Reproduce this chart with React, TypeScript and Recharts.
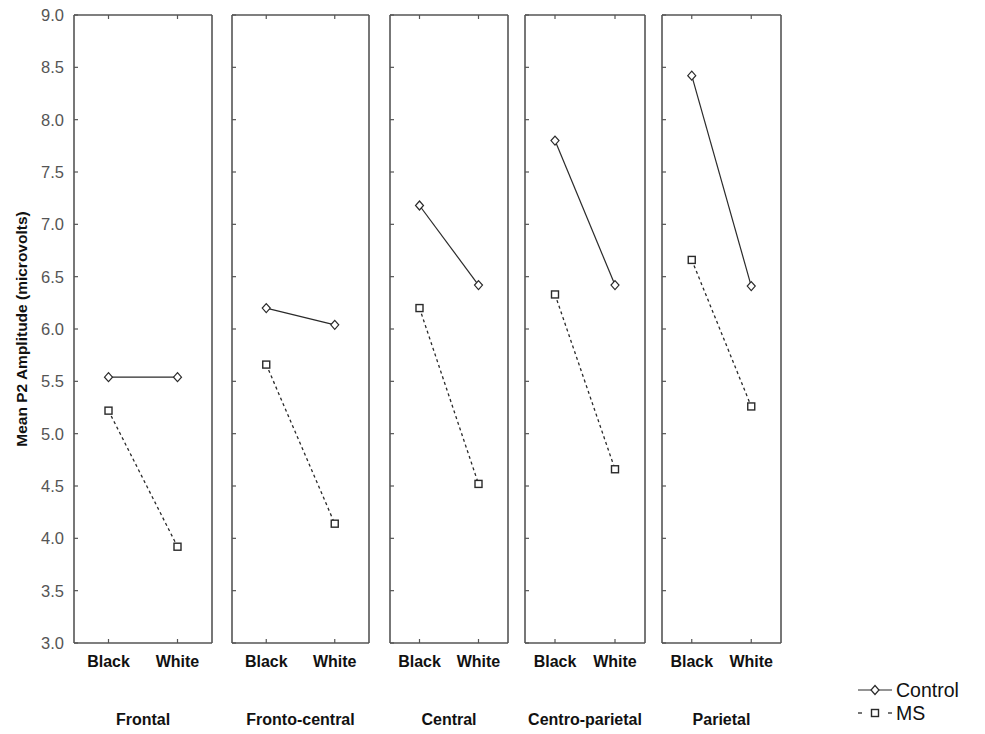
import React from "react";
import { LineChart, Line, XAxis, YAxis } from "recharts";

// Mean P2 amplitude (microvolts) per scalp region
const REGIONS = ["Frontal", "Fronto-central", "Central", "Centro-parietal", "Parietal"];
const CONDITIONS = ["Black", "White"];
const CONTROL_BLACK = [5.54, 6.2, 7.18, 7.8, 8.42];
const CONTROL_WHITE = [5.54, 6.04, 6.42, 6.42, 6.41];
const MS_BLACK = [5.22, 5.66, 6.2, 6.33, 6.66];
const MS_WHITE = [3.92, 4.14, 4.52, 4.66, 5.26];
const Y_TICKS = [3.0, 3.5, 4.0, 4.5, 5.0, 5.5, 6.0, 6.5, 7.0, 7.5, 8.0, 8.5, 9.0];
const SERIES = ["Control", "MS"];

// where each panel's plot box sits on the page
const PANEL_LEFT = [74, 232, 390, 525, 662];
const PANEL_WIDTH = [138, 137, 118, 120, 119];
const PLOT_TOP = 15;
const PLOT_BOTTOM = 643;
const CHART_H = 734;
const X_AXIS_H = 30;

const FRAME = "#555";
const INK = "#2a2a2a";
const FONT = "'Liberation Sans', Arial, Helvetica, sans-serif";

const Diamond = (props: any) => {
  const { cx, cy, index } = props;
  if (cx == null || cy == null) return null;
  return (
    <path
      key={`d-${index}`}
      d={`M${cx},${cy - 4.5}L${cx + 4},${cy}L${cx},${cy + 4.5}L${cx - 4},${cy}Z`}
      fill="#fff"
      stroke={INK}
      strokeWidth={1.2}
    />
  );
};

const Square = (props: any) => {
  const { cx, cy, index } = props;
  if (cx == null || cy == null) return null;
  return (
    <rect
      key={`s-${index}`}
      x={cx - 3.5}
      y={cy - 3.5}
      width={7}
      height={7}
      fill="#fff"
      stroke={INK}
      strokeWidth={1.4}
    />
  );
};

function Panel({ idx }: { idx: number }) {
  const first = idx === 0;
  const left = PANEL_LEFT[idx];
  const yAxisW = first ? left : 1;
  const chartLeft = first ? 0 : left - 1;
  const chartW = yAxisW + PANEL_WIDTH[idx] + 1;

  const data = CONDITIONS.map((c, i) => ({
    x: i + 1,
    control: i === 0 ? CONTROL_BLACK[idx] : CONTROL_WHITE[idx],
    ms: i === 0 ? MS_BLACK[idx] : MS_WHITE[idx],
  }));

  const axisLine = { stroke: FRAME, strokeWidth: 1.6 };
  const tickLine = { stroke: FRAME, strokeWidth: 1.2 };

  return (
    <div style={{ position: "absolute", left: chartLeft, top: 0 }}>
      <LineChart
        width={chartW}
        height={CHART_H}
        data={data}
        margin={{ top: PLOT_TOP - 1, right: 0, bottom: CHART_H - PLOT_BOTTOM - X_AXIS_H, left: 0 }}
      >
        <XAxis
          xAxisId="b"
          type="number"
          dataKey="x"
          domain={[0.5, 2.5]}
          ticks={[1, 2]}
          height={X_AXIS_H}
          tickFormatter={(v) => CONDITIONS[v - 1]}
          tickSize={-4}
          tickMargin={17}
          axisLine={axisLine}
          tickLine={tickLine}
          tick={{ fontSize: 16, fontWeight: "bold", fill: "#111" }}
          label={{
            value: REGIONS[idx],
            position: "bottom",
            offset: 41,
            style: { fontSize: 16, fontWeight: "bold", fill: "#111" },
          }}
        />
        <XAxis
          xAxisId="t"
          orientation="top"
          type="number"
          dataKey="x"
          domain={[0.5, 2.5]}
          ticks={[1, 2]}
          height={1}
          tickFormatter={() => ""}
          tickSize={-4}
          axisLine={axisLine}
          tickLine={tickLine}
        />
        <YAxis
          yAxisId="l"
          type="number"
          domain={[3, 9]}
          ticks={Y_TICKS}
          width={yAxisW}
          tickFormatter={(v) => (first ? v.toFixed(1) : "")}
          tickSize={-4}
          tickMargin={14}
          axisLine={axisLine}
          tickLine={tickLine}
          tick={{ fontSize: 16.5, fill: "#555" }}
        />
        <YAxis
          yAxisId="r"
          orientation="right"
          type="number"
          domain={[3, 9]}
          ticks={Y_TICKS}
          width={1}
          tickFormatter={() => ""}
          tickSize={-4}
          axisLine={axisLine}
          tickLine={tickLine}
        />
        <Line
          xAxisId="b"
          yAxisId="l"
          dataKey="control"
          name={SERIES[0]}
          stroke={INK}
          strokeWidth={1.2}
          dot={<Diamond />}
          activeDot={false}
          isAnimationActive={false}
        />
        <Line
          xAxisId="b"
          yAxisId="l"
          dataKey="ms"
          name={SERIES[1]}
          stroke={INK}
          strokeWidth={1.3}
          strokeDasharray="3 3"
          dot={<Square />}
          activeDot={false}
          isAnimationActive={false}
        />
      </LineChart>
    </div>
  );
}

export default function App() {
  return (
    <div
      style={{
        position: "absolute",
        left: 0,
        top: 0,
        width: 985,
        height: 734,
        background: "#fff",
        fontFamily: FONT,
      }}
    >
      {REGIONS.map((r, i) => (
        <Panel key={r} idx={i} />
      ))}

      {/* y axis title */}
      <svg style={{ position: "absolute", left: 0, top: 0 }} width={40} height={734}>
        <text
          x={0}
          y={0}
          transform={`translate(27, ${(PLOT_TOP + PLOT_BOTTOM) / 2}) rotate(-90)`}
          textAnchor="middle"
          fontSize={15.5}
          fontWeight="bold"
          fill="#111"
        >
          Mean P2 Amplitude (microvolts)
        </text>
      </svg>

      {/* legend */}
      <svg style={{ position: "absolute", left: 850, top: 670 }} width={135} height={60}>
        <line x1={8} y1={20} x2={42} y2={20} stroke={INK} strokeWidth={1.2} />
        <path d="M25,15.5L29,20L25,24.5L21,20Z" fill="#fff" stroke={INK} strokeWidth={1.2} />
        <text x={46} y={26.5} fontSize={19.5} fill="#111">
          {SERIES[0]}
        </text>
        <line x1={8} y1={43} x2={12} y2={43} stroke={INK} strokeWidth={1.3} />
        <line x1={38} y1={43} x2={42} y2={43} stroke={INK} strokeWidth={1.3} />
        <rect x={21.5} y={39.5} width={7} height={7} fill="#fff" stroke={INK} strokeWidth={1.4} />
        <text x={46} y={49.5} fontSize={19.5} fill="#111">
          {SERIES[1]}
        </text>
      </svg>
    </div>
  );
}
